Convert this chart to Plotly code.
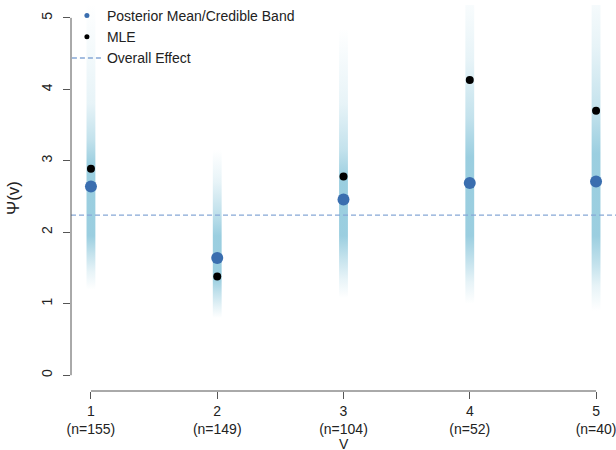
import plotly.graph_objects as go

# ---- data ----
groups = [1, 2, 3, 4, 5]
n_obs = [155, 149, 104, 52, 40]
post_mean = [2.64, 1.64, 2.46, 2.69, 2.71]
mle = [2.89, 1.38, 2.78, 4.13, 3.70]
overall_effect = 2.24

# credible band quantiles
lo99 = [1.20, 0.80, 1.08, 1.00, 0.90]
lo95 = [1.45, 0.95, 1.35, 1.30, 1.25]
lo80 = [1.70, 1.15, 1.65, 1.60, 1.55]
lo50 = [1.95, 1.35, 1.95, 1.95, 1.95]
hi50 = [2.95, 1.95, 2.75, 3.05, 3.10]
hi80 = [3.30, 2.30, 3.15, 3.60, 3.70]
hi95 = [3.80, 2.70, 3.80, 4.40, 4.60]
hi99 = [5.20, 3.15, 4.85, 5.50, 5.60]

tick_labels = [f"{g}<br>(n={n})" for g, n in zip(groups, n_obs)]

# ---- style ----
FONT = "Liberation Sans, Arial, sans-serif"
band_rgb = (146, 202, 221)
alphas = {"99": 0.0, "95": 0.22, "80": 0.55, "50": 0.92}
half_w = 0.035

def rgba(a):
    return f"rgba({band_rgb[0]},{band_rgb[1]},{band_rgb[2]},{a})"

fig = go.Figure()

for i, g in enumerate(groups):
    lo, hi = lo99[i], hi99[i]
    span = hi - lo
    pos = lambda v: (v - lo) / span
    cs = [
        [0.0, rgba(alphas["99"])],
        [pos(lo95[i]), rgba(alphas["95"])],
        [pos(lo80[i]), rgba(alphas["80"])],
        [pos(lo50[i]), rgba(alphas["50"])],
        [pos(hi50[i]), rgba(alphas["50"])],
        [pos(hi80[i]), rgba(alphas["80"])],
        [pos(hi95[i]), rgba(alphas["95"])],
        [1.0, rgba(alphas["99"])],
    ]
    fig.add_trace(go.Scatter(
        x=[g - half_w, g + half_w, g + half_w, g - half_w, g - half_w],
        y=[lo, lo, hi, hi, lo],
        mode="lines", line=dict(width=0), fill="toself",
        fillgradient=dict(type="vertical", colorscale=cs, start=lo, stop=hi),
        hoverinfo="skip", showlegend=False,
    ))

line_col = "#86a8d6"
fig.add_trace(go.Scatter(
    x=[0.842, 5.158], y=[overall_effect, overall_effect], mode="lines",
    line=dict(color=line_col, width=1.3, dash="5px,3px"),
    showlegend=False, hoverinfo="skip",
))

fig.add_trace(go.Scatter(
    x=groups, y=post_mean, mode="markers",
    marker=dict(color="#3a6eaf", size=12), showlegend=False,
))
fig.add_trace(go.Scatter(
    x=groups, y=mle, mode="markers",
    marker=dict(color="black", size=8), showlegend=False,
))

# legend entries
fig.add_trace(go.Scatter(x=[None], y=[None], mode="markers",
                         marker=dict(color="#3a6eaf", size=5),
                         name="Posterior Mean/Credible Band"))
fig.add_trace(go.Scatter(x=[None], y=[None], mode="markers",
                         marker=dict(color="black", size=5), name="MLE"))
fig.add_trace(go.Scatter(x=[None], y=[None], mode="lines",
                         line=dict(color=line_col, width=1.3, dash="5px,3px"),
                         name="Overall Effect"))

axis_col = "#555555"
fig.add_shape(type="line", xref="paper", yref="y", x0=0, x1=0, y0=0, y1=5,
              line=dict(color=axis_col, width=1))
fig.add_shape(type="line", xref="x", yref="paper", x0=1, x1=5, y0=0, y1=0,
              line=dict(color=axis_col, width=1))

# x-axis title placed below the two-line tick labels
fig.add_annotation(text="V", xref="paper", yref="paper", x=0.5, y=0,
                   xanchor="center", yanchor="top", yshift=-44, borderpad=0,
                   showarrow=False, font=dict(size=14, color="#222222"))

fig.update_layout(
    width=616, height=450,
    margin=dict(l=71, r=0, t=0, b=59),
    paper_bgcolor="white", plot_bgcolor="white",
    font=dict(family=FONT, size=14, color="#222222"),
    showlegend=True,
    legend=dict(x=-0.0075, y=1.013, xanchor="left", yanchor="top",
                bgcolor="rgba(0,0,0,0)", font=dict(size=14),
                tracegroupgap=0, itemwidth=30),
    xaxis=dict(range=[0.842, 5.158], tickvals=groups, ticktext=tick_labels,
               showgrid=False, zeroline=False, showline=False,
               ticks="outside", ticklen=7, tickcolor=axis_col,
               ticklabeloverflow="allow", automargin=False),
    yaxis=dict(range=[-0.221, 5.18], tickvals=[0, 1, 2, 3, 4, 5],
               showgrid=False, zeroline=False, showline=False,
               ticks="outside", ticklen=7, tickcolor=axis_col, tickangle=-90,
               ticklabelstandoff=5, automargin=False,
               title=dict(text="\u03a8(v)", standoff=15)),
)

fig.write_html("out.html", config={"displayModeBar": False},
               post_script="document.body.style.margin='0';document.body.style.overflow='hidden';")
